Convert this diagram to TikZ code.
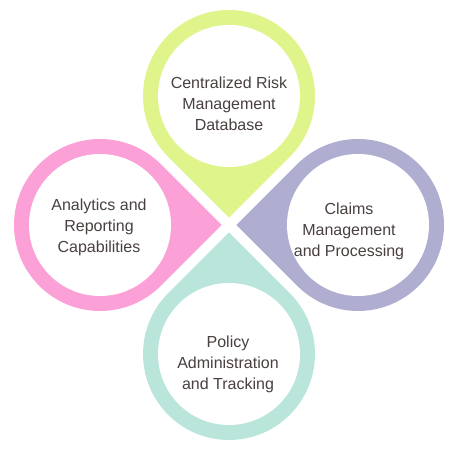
\documentclass[tikz,border=0pt]{standalone}
\usepackage{fontspec}
\setmainfont{Liberation Sans}
\definecolor{cyell}{HTML}{DFF58C}
\definecolor{cpink}{HTML}{FCA0D8}
\definecolor{clav}{HTML}{AFAED0}
\definecolor{cmint}{HTML}{B9E5DA}
\definecolor{ctext}{HTML}{4A4040}
\tikzset{
  lbl/.style={align=center, text=ctext, font=\fontsize{16}{21}\selectfont, inner sep=0pt},
  pics/drop/.style={code={
    \fill[#1] (0,-121.6) -- (-45:86) arc[start angle=-45, end angle=225, radius=86] -- cycle;
    \fill[white] (0,0) circle[radius=71];
  }}
}
\begin{document}
\begin{tikzpicture}[x=1pt,y=1pt]
\useasboundingbox (0,0) rectangle (456,454);
\coordinate (C) at (229,229);
\pic[shift={(229,358)}] {drop=cyell};
\pic[shift={(358,229)}, rotate=-90] {drop=clav};
\pic[shift={(229,100)}, rotate=180] {drop=cmint};
\pic[shift={(100,229)}, rotate=90] {drop=cpink};
\node[lbl] (top) at (229,350) {Centralized Risk\\Management\\Database};
\node[lbl] (right) at (349,223) {Claims\\Management\\and Processing};
\node[lbl] (bottom) at (228,90) {Policy\\Administration\\and Tracking};
\node[lbl] (left) at (99,227) {Analytics and\\Reporting\\Capabilities};
\end{tikzpicture}
\end{document}
